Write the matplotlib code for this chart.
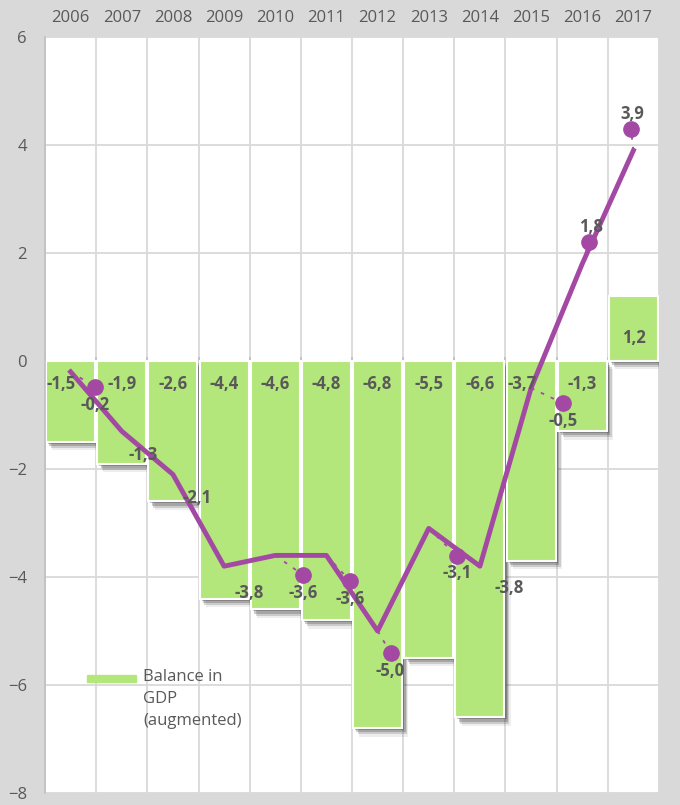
import numpy as np
import matplotlib.pyplot as plt
import matplotlib.patheffects as pe
from matplotlib.patches import Rectangle

plt.rcParams['font.family'] = ['Open Sans', 'DejaVu Sans']

years = ['2006', '2007', '2008', '2009', '2010', '2011',
         '2012', '2013', '2014', '2015', '2016', '2017']
balance = [-1.5, -1.9, -2.6, -4.4, -4.6, -4.8, -6.8, -5.5, -6.6, -3.7, -1.3, 1.2]
growth = [-0.2, -1.3, -2.1, -3.8, -3.6, -3.6, -5.0, -3.1, -3.8, -0.5, 1.8, 3.9]

# displaced markers of the line series (category position, value)
dot_src = [0, 4, 5, 6, 7, 9, 10, 11]
dot_x = [0.48, 4.54, 5.46, 6.26, 7.55, 9.62, 10.13, 10.95]
dot_y = [-0.48, -3.96, -4.07, -5.41, -3.61, -0.78, 2.20, 4.30]

# label offsets in pixels
line_lbl_off = [(24, -33), (21, -24), (24, -24), (25, -27), (28, -38), (24, -44),
                (12, -40), (28, -45), (29, -22), (32, -33), (9, 37), (-1, 36)]
bar_lbl_dx = [-10, 0, 0, 0, 0, 0, 0, 0, 0, -9, 0, 0]

GREEN = '#B3E67B'
PURPLE = '#A349A4'
TXT = '#595959'
GRID = '#D9D9D9'

fig = plt.figure(figsize=(6.8, 8.05), dpi=100, facecolor='#D9D9D9')
ax = fig.add_axes([45 / 680, 12 / 805, 614 / 680, 756 / 805])
ax.set_facecolor('white')

x = np.arange(len(years))

shadow = [pe.SimplePatchShadow(offset=(1.5, -1.5), shadow_rgbFace='#303030', alpha=0.3),
          pe.SimplePatchShadow(offset=(2.5, -3), shadow_rgbFace='#303030', alpha=0.25),
          pe.SimplePatchShadow(offset=(3.5, -4.5), shadow_rgbFace='#303030', alpha=0.18),
          pe.SimplePatchShadow(offset=(4.5, -6), shadow_rgbFace='#303030', alpha=0.08),
          pe.Normal()]
bars = ax.bar(x, balance, width=0.96, color=GREEN, edgecolor='white',
              linewidth=1.5, zorder=2)
for b in bars:
    b.set_path_effects(shadow)

for i, v in enumerate(balance):
    dy = -23 if v < 0 else 23
    ax.annotate(f'{v:.1f}'.replace('.', ','), (x[i], 0), xytext=(bar_lbl_dx[i], dy),
                textcoords='offset pixels', ha='center', va='center',
                fontsize=12, fontweight='bold', color=TXT, zorder=6)

# leader lines from line vertex to displaced markers
for s, dx_, dy_ in zip(dot_src, dot_x, dot_y):
    ax.plot([x[s], dx_], [growth[s], dy_], color=PURPLE, lw=1.3,
            linestyle=(0, (2, 4)), zorder=3)

ax.plot(x, growth, color=PURPLE, lw=3.5, solid_joinstyle='round', zorder=4)
ax.plot(dot_x, dot_y, 'o', color=PURPLE, markersize=11, zorder=5)

for i, v in enumerate(growth):
    ox, oy = line_lbl_off[i]
    ax.annotate(f'{v:.1f}'.replace('.', ','), (x[i], v), xytext=(ox, oy),
                textcoords='offset pixels', ha='center', va='center',
                fontsize=12, fontweight='bold', color=TXT, zorder=6)

ax.set_xlim(-0.5, len(years) - 0.5)
ax.set_ylim(-8, 6)
ax.set_yticks(np.arange(-8, 7, 2))
ax.xaxis.tick_top()
ax.set_xticks(x)
ax.set_xticklabels(years)
ax.set_xticks(np.arange(-0.5, len(years), 1), minor=True)
ax.tick_params(axis='x', which='major', length=0, pad=8, labelsize=12, labelcolor=TXT)
ax.tick_params(axis='x', which='minor', length=0)
ax.tick_params(axis='y', length=0, pad=13, labelsize=12, labelcolor=TXT)
ax.grid(True, axis='y', which='major', color=GRID, lw=1.3, zorder=0)
ax.grid(True, axis='x', which='minor', color=GRID, lw=1.3, zorder=0)
ax.set_axisbelow(True)

ax.axhline(0, color='#BFBFBF', lw=1.2, zorder=1)
ax.vlines(np.arange(-0.5, len(years), 1), 0, 0.07, color='#BFBFBF', lw=1.2, zorder=1)

for sp in ['top', 'right', 'bottom']:
    ax.spines[sp].set_visible(False)
ax.spines['left'].set_color('#BFBFBF')
ax.spines['left'].set_linewidth(1.2)

# legend
fig.add_artist(Rectangle((87 / 680, 1 - 682 / 805), 49 / 680, 7 / 805,
                         transform=fig.transFigure, color=GREEN))
fig.text(143 / 680, 1 - 669 / 805, 'Balance in\nGDP\n(augmented)', ha='left', va='top',
         fontsize=12, color=TXT, linespacing=1.5)

fig.savefig('out.png', dpi=100, facecolor=fig.get_facecolor())
